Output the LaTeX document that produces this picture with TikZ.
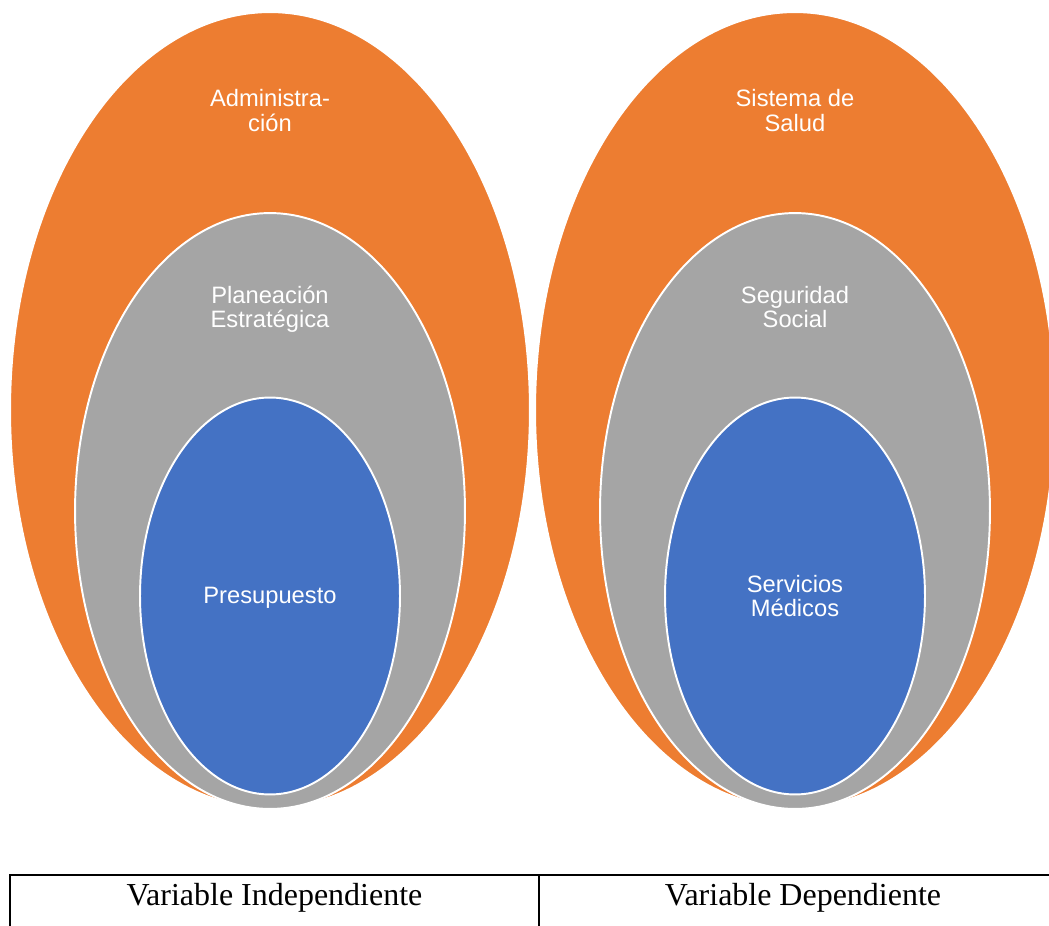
\documentclass[tikz,border=0pt]{standalone}
\usepackage{fontspec}
\setmainfont{Liberation Serif}
\newfontfamily\lblfont{Liberation Sans}
\usepackage{tikz}
\usetikzlibrary{shapes.geometric,positioning}
\definecolor{ringorange}{HTML}{ED7D31}
\definecolor{ringgray}{HTML}{A5A5A5}
\definecolor{ringblue}{HTML}{4472C4}

\begin{document}
\begin{tikzpicture}[x=0.02cm,y=-0.02cm,
  ring/.style={ellipse,draw=white,line width=1.1pt,inner sep=0pt,outer sep=0pt},
  outerring/.style={ring,fill=ringorange,minimum width=10.4cm,minimum height=15.92cm},
  midring/.style={ring,fill=ringgray,minimum width=7.8cm,minimum height=11.92cm},
  innerring/.style={ring,fill=ringblue,minimum width=5.2cm,minimum height=7.94cm},
  lbl/.style={text=white,align=center,font=\lblfont\fontsize{13.5}{13.7}\selectfont},
  head/.style={anchor=base,font=\fontsize{18.2}{22}\selectfont}]
  \clip (0,0) rectangle (1049,926);

  % independent variable
  \node[outerring] (adm) at (270,410) {};
  \node[midring] (plan) at (270,511) {};
  \node[innerring] (pres) at (270,596) {};
  \node[lbl] (admtxt) at (270,110.5) {Administra-\\ción};
  \node[lbl] (plantxt) at (270,309) {Planeación\\Estratégica};
  \node[lbl] (prestxt) at (270,598) {Presupuesto};

  % dependent variable
  \node[outerring] (sis) at (795,410) {};
  \node[midring] (seg) at (795,511) {};
  \node[innerring] (serv) at (795,596) {};
  \node[lbl] (sistxt) at (795,110.5) {Sistema de\\Salud};
  \node[lbl] (segtxt) at (795,307) {Seguridad\\Social};
  \node[lbl] (servtxt) at (795,596) {Servicios\\Médicos};

  % table under the rings
  \draw[line width=0.85pt] (10,960) -- (10,875) -- (1070,875);
  \draw[line width=0.85pt] (539,875) -- (539,960);
  \node[head] (indep) at (274.5,905) {Variable Independiente};
  \node[head] (dep) at (803,905) {Variable Dependiente};
\end{tikzpicture}
\end{document}
